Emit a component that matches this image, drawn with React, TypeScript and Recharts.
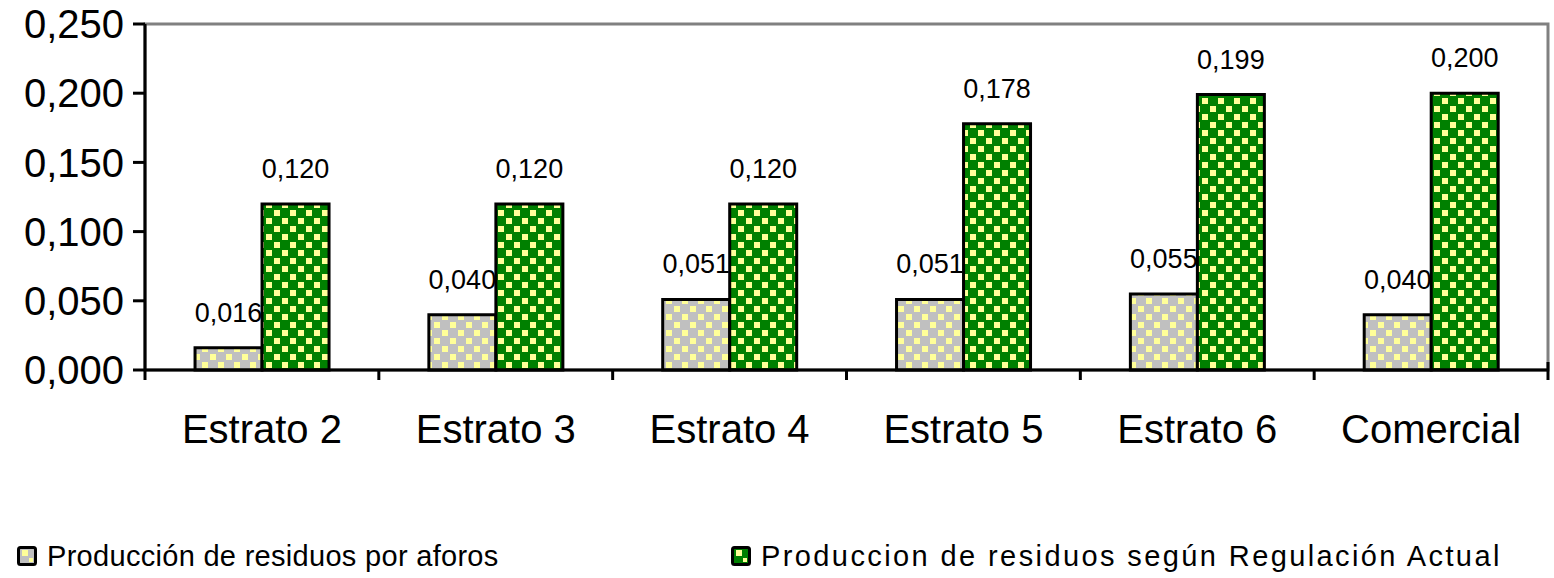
import { BarChart, Bar, XAxis, YAxis, LabelList, ReferenceArea } from 'recharts';

const categories = ['Estrato 2', 'Estrato 3', 'Estrato 4', 'Estrato 5', 'Estrato 6', 'Comercial'];
const aforos = [0.016, 0.04, 0.051, 0.051, 0.055, 0.04];
const regulacion = [0.12, 0.12, 0.12, 0.178, 0.199, 0.2];
const yTicks = [0, 0.05, 0.1, 0.15, 0.2, 0.25];
const seriesNames = ['Producción de residuos por aforos', 'Produccion de residuos según Regulación Actual'];

const data = categories.map((c, i) => ({ name: c, aforos: aforos[i], regulacion: regulacion[i] }));

const fmt = (v: number) => v.toFixed(3).replace('.', ',');

const W = 1554;
const H = 578;
const LEFT = 145;
const RIGHT = 6;
const BAND = (W - LEFT - RIGHT) / categories.length;

const font = '"Liberation Sans", Arial, sans-serif';

// category labels plus tick marks on the band edges
function XTick(props: any) {
    const { x, y, payload, index } = props;
    const last = index === categories.length - 1;
    return (
        <g>
            <line x1={x - BAND / 2} x2={x - BAND / 2} y1={y} y2={y + 10} stroke="#000" strokeWidth={3} />
            {last && <line x1={x + BAND / 2} x2={x + BAND / 2} y1={y - 8} y2={y + 10} stroke="#000" strokeWidth={3} />}
            <text x={x} y={y + 73} textAnchor="middle" fontSize={40} fontFamily={font} fill="#000">{payload.value}</text>
        </g>
    );
}

function Patterns() {
    return (
        <svg width={0} height={0} style={{ position: 'absolute' }}>
            <defs>
                <pattern id="pGray" width={16} height={16} patternUnits="userSpaceOnUse">
                    <rect width={16} height={16} fill="#C0C0C0" />
                    <rect x={2} y={2} width={6} height={6} fill="#FFFF99" />
                    <rect x={10} y={10} width={6} height={6} fill="#FFFF99" />
                </pattern>
                <pattern id="pGreen" width={16} height={16} patternUnits="userSpaceOnUse">
                    <rect width={16} height={16} fill="#008000" />
                    <rect x={2} y={2} width={6} height={6} fill="#FFFF99" />
                    <rect x={10} y={10} width={6} height={6} fill="#FFFF99" />
                </pattern>
            </defs>
        </svg>
    );
}

function Swatch({ bg }: { bg: string }) {
    return (
        <svg width={20} height={20}>
            <rect x={1.5} y={1.5} width={17} height={17} rx={2} fill={bg} stroke="#000" strokeWidth={3} />
            <rect x={5} y={4} width={6} height={6} fill="#FFFF99" />
            <rect x={12} y={12} width={4} height={4} fill="#FFFF99" />
        </svg>
    );
}

function LegendBox() {
    const item = (bg: string, label: string, left: number, spacing: number) => (
        <div style={{ position: 'absolute', left, top: 539, height: 34, display: 'flex', alignItems: 'center' }}>
            <Swatch bg={bg} />
            <span style={{ marginLeft: 10, fontSize: 29, fontFamily: font, letterSpacing: spacing, color: '#000', whiteSpace: 'nowrap' }}>{label}</span>
        </div>
    );
    return (
        <>
            {item('#C0C0C0', seriesNames[0], 17, 0.3)}
            {item('#008000', seriesNames[1], 731, 2.4)}
        </>
    );
}

export default function App() {
    return (
        <div style={{ position: 'absolute', left: 0, top: 0, width: W, height: H, background: '#fff' }}>
            <Patterns />
            <BarChart
                width={W}
                height={H}
                data={data}
                margin={{ top: 24, right: RIGHT, left: 0, bottom: 78 }}
                barGap={0}
                barCategoryGap="21.4%"
            >
                <ReferenceArea y1={0} y2={0.25} fill="none" stroke="#808080" strokeWidth={3} ifOverflow="visible" />
                <XAxis
                    dataKey="name"
                    height={130}
                    axisLine={{ stroke: '#000', strokeWidth: 3 }}
                    tickLine={false}
                    tickSize={0}
                    tickMargin={0}
                    interval={0}
                    tick={<XTick />}
                />
                <YAxis
                    width={LEFT}
                    domain={[0, 0.25]}
                    ticks={yTicks}
                    interval={0}
                    tickFormatter={fmt}
                    axisLine={{ stroke: '#000', strokeWidth: 3 }}
                    tickLine={{ stroke: '#000', strokeWidth: 3 }}
                    tickSize={12}
                    tickMargin={9}
                    tick={{ fontSize: 40, fontFamily: font, fill: '#000' }}
                />
                <Bar dataKey="aforos" fill="url(#pGray)" stroke="#000" strokeWidth={3} isAnimationActive={false}>
                    <LabelList dataKey="aforos" position="top" offset={26} formatter={(v: any) => fmt(Number(v))} style={{ fontSize: 27, fontFamily: font, fill: '#000' }} />
                </Bar>
                <Bar dataKey="regulacion" fill="url(#pGreen)" stroke="#000" strokeWidth={3} isAnimationActive={false}>
                    <LabelList dataKey="regulacion" position="top" offset={26} formatter={(v: any) => fmt(Number(v))} style={{ fontSize: 27, fontFamily: font, fill: '#000' }} />
                </Bar>
            </BarChart>
            <LegendBox />
        </div>
    );
}
